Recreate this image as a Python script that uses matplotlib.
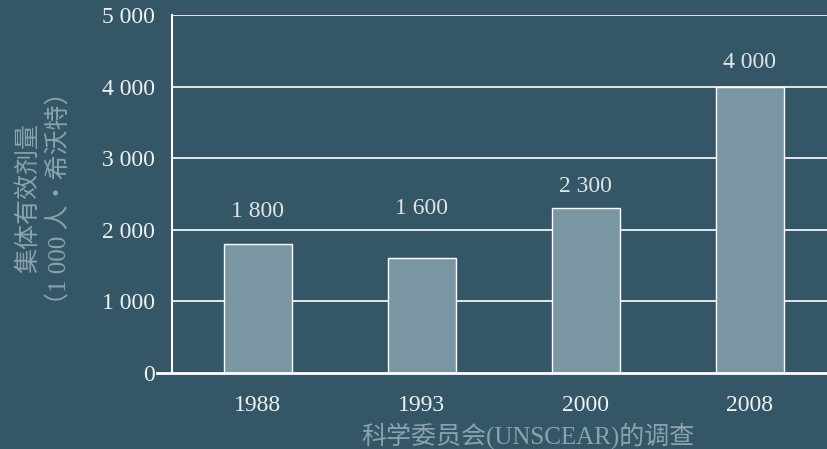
import matplotlib
matplotlib.use('Agg')
import matplotlib.pyplot as plt

# ---- Data ----
years = ['1988', '1993', '2000', '2008']
dose = [1800, 1600, 2300, 4000]
value_labels = ['1 800', '1 600', '2 300', '4 000']
yticks = [0, 1000, 2000, 3000, 4000, 5000]
ytick_labels = ['0', '1 000', '2 000', '3 000', '4 000', '5 000']

# ---- Style ----
BG = '#355666'
BAR = '#7a96a3'
TICK = '#eef2f3'
MUTED = '#8ba3ae'
FONT = ['Liberation Serif', 'Noto Sans CJK SC', 'DejaVu Sans']
LABEL_Y = [2250, 2300, 2610, 4330]  # where each value label sits

plt.rcParams['font.family'] = FONT

fig = plt.figure(figsize=(8.28, 4.49), dpi=100, facecolor=BG)
ax = fig.add_axes([172 / 828, 76 / 449, 656 / 828, 358 / 449])
ax.set_facecolor(BG)

x = list(range(len(years)))
ax.set_axisbelow(True)
for t in yticks[1:]:
    ax.axhline(t, color='white', lw=1.2, zorder=0)

ax.bar(x, dose, width=0.41, color=BAR, edgecolor='white', linewidth=1.0,
       zorder=2)
for xi, lab, ly in zip(x, value_labels, LABEL_Y):
    ax.text(xi, ly, lab, ha='center', va='center', fontsize=17,
            color='#dde5e8')

ax.set_xlim(-0.524, 3.476)
ax.set_ylim(0, 5000)
ax.set_xticks(x)
ax.set_xticklabels(years)
ax.set_yticks(yticks)
ax.set_yticklabels(ytick_labels)
ax.tick_params(axis='both', length=0, labelsize=17, colors=TICK)
ax.tick_params(axis='x', pad=16)
ax.tick_params(axis='y', pad=12)

for side in ('top', 'right', 'bottom'):
    ax.spines[side].set_visible(False)
ax.spines['left'].set_color('white')
ax.spines['left'].set_linewidth(1.5)
# bottom axis line runs a little past the left spine
ax.axhline(0, xmin=-0.023, xmax=1, color='white', lw=2.0, clip_on=False,
           zorder=3)

fig.text(528 / 828, 1 - 436 / 449, '科学委员会(UNSCEAR)的调查',
         ha='center', va='center', fontsize=18, color=MUTED)
fig.text(44 / 828, 1 - 198 / 449, '集体有效剂量\n（1 000 人・希沃特）',
         ha='center', va='center', rotation=90, multialignment='center',
         fontsize=18, color=MUTED, linespacing=1.35)

fig.savefig('out.png', dpi=100, facecolor=BG)
